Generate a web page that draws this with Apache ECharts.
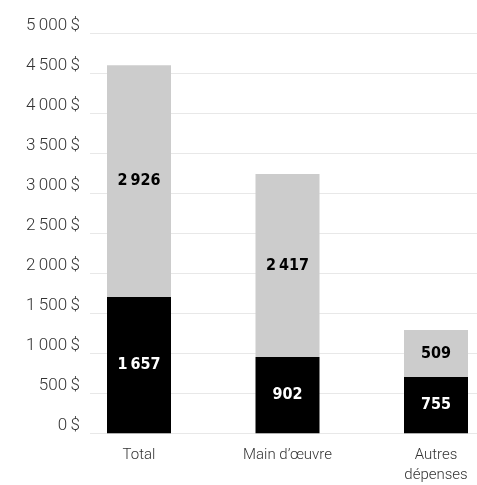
<!DOCTYPE html>
<html>
<head>
<meta charset="utf-8">
<script src="https://cdn.jsdelivr.net/npm/echarts@6/dist/echarts.min.js"></script>
<style>
html,body{margin:0;padding:0;background:#fff;}
#c{width:477px;height:485px;}
</style>
</head>
<body>
<div id="c"></div>
<script>
var categories = ['Total', 'Main d\u2019\u0153uvre', 'Autres\nd\u00e9penses'];
var blackValues = [1705, 955, 705];
var grayValues = [2895, 2285, 585];
var blackLabels = ['1\u2009657', '902', '755'];
var grayLabels = ['2\u2009926', '2\u2009417', '509'];
var yTickLabels = ['0\u2009$', '500\u2009$', '1\u2009000\u2009$', '1\u2009500\u2009$', '2\u2009000\u2009$',
  '2\u2009500\u2009$', '3\u2009000\u2009$', '3\u2009500\u2009$', '4\u2009000\u2009$', '4\u2009500\u2009$', '5\u2009000\u2009$'];

(function () {
var chart = echarts.init(document.getElementById('c'), null, {renderer: 'canvas'});
var gTop = 33.3, gBottom = 51.7;
var fontStack = "'DejaVu Sans Condensed', Roboto, sans-serif";
chart.setOption({
  animation: false,
  backgroundColor: '#ffffff',
  grid: [
    {left: 90, right: 0, top: gTop, bottom: gBottom, outerBoundsMode: 'none'},
    {left: 64.75, width: 445.5, top: gTop, bottom: gBottom, outerBoundsMode: 'none'}
  ],
  xAxis: [
    {gridIndex: 0, type: 'category', data: categories, show: false},
    {gridIndex: 1, type: 'category', data: categories,
      axisLine: {show: false}, axisTick: {show: false},
      axisLabel: {margin: 12, fontFamily: 'Roboto', fontWeight: 300, fontSize: 15, lineHeight: 20, color: '#333333'}}
  ],
  yAxis: [
    {gridIndex: 0, type: 'value', min: 0, max: 5000, interval: 500,
      axisLine: {show: false}, axisTick: {show: false},
      splitLine: {lineStyle: {color: '#e8e8e8', width: 1}},
      axisLabel: {margin: 10, fontFamily: 'Roboto', fontWeight: 300, fontSize: 17, color: '#333333',
        verticalAlign: 'bottom', lineHeight: 15,
        formatter: function (v) { return yTickLabels[Math.round(v / 500)]; }}},
    {gridIndex: 1, type: 'value', min: 0, max: 5000, interval: 500, show: false, splitLine: {show: false}}
  ],
  series: [
    {type: 'bar', xAxisIndex: 1, yAxisIndex: 1, stack: 's', data: blackValues, barWidth: 64,
      itemStyle: {color: '#000000'},
      label: {show: true, position: 'inside', color: '#ffffff', fontFamily: fontStack, fontWeight: 'bold', fontSize: 16,
        formatter: function (p) { return blackLabels[p.dataIndex]; }}},
    {type: 'bar', xAxisIndex: 1, yAxisIndex: 1, stack: 's', data: grayValues, barWidth: 64,
      itemStyle: {color: '#cccccc'},
      label: {show: true, position: 'inside', color: '#000000', fontFamily: fontStack, fontWeight: 'bold', fontSize: 16,
        formatter: function (p) { return grayLabels[p.dataIndex]; }}}
  ]
});
})();
</script>
</body>
</html>
